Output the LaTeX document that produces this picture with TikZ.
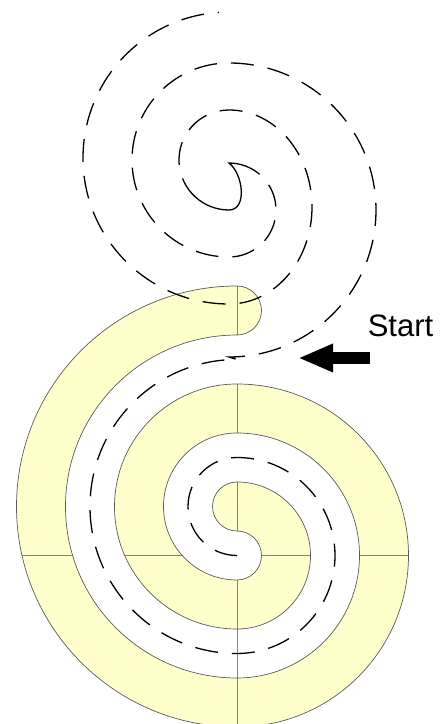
\documentclass[tikz,border=0pt]{standalone}
\usepackage{fontspec}
\setmainfont{Liberation Sans}
\usetikzlibrary{arrows.meta}
\definecolor{Wall}{HTML}{FFFFCC}
\definecolor{WallLine}{HTML}{5A5A5A}
\definecolor{Seam}{HTML}{85856A}

% the yellow wall of the lower spiral, built from half circles round two centres
\newcommand{\wallshape}{(237,438)
  arc[start angle=90,end angle=270,radius=220.5]
  arc[start angle=-90,end angle=90,radius=171.5]
  arc[start angle=90,end angle=270,radius=122.5]
  arc[start angle=-90,end angle=90,radius=73.5]
  arc[start angle=90,end angle=270,radius=24.5]
  arc[start angle=90,end angle=-90,radius=24.5]
  arc[start angle=270,end angle=90,radius=73.5]
  arc[start angle=90,end angle=-90,radius=122.5]
  arc[start angle=270,end angle=90,radius=171.5]
  arc[start angle=-90,end angle=90,radius=24.5] -- cycle}

\tikzset{
  wall/.style={fill=Wall,draw=WallLine,line width=0.7pt},
  seam/.style={Seam,line width=0.8pt},
  trail/.style={line width=1.3pt,dash pattern=on 23pt off 14pt},
  hookline/.style={line width=1.3pt},
}

\begin{document}
\begin{tikzpicture}[x=1pt,y=1pt]
  \useasboundingbox (0,0) rectangle (447,724);
  \clip (0,0) rectangle (447,724);
  \coordinate (lowR) at (237,168.5);
  \coordinate (upL) at (229,564);
  \coordinate (upR) at (229,514);
  \coordinate (arrowtail) at (370,366);
  \coordinate (arrowtip) at (298,366);

  % wall and its seams
  \fill[Wall] \wallshape;
  \begin{scope}
    \clip \wallshape;
    \draw[seam] (237,-10) -- (237,450);
    \draw[seam] (0,168.5) -- (447,168.5);
  \end{scope}
  \draw[seam] (237,95) -- (237,46);
  \draw[wall,fill=none] \wallshape;

  % walking line: in through the corridor, out round the upper spiral
  \draw[trail] (lowR) arc[start angle=270,end angle=90,radius=49]
    arc[start angle=90,end angle=-90,radius=98]
    arc[start angle=270,end angle=90,radius=147] -- ++(-8,2.5)
    arc[start angle=-90,end angle=90,radius=147]
    arc[start angle=90,end angle=270,radius=97]
    arc[start angle=-90,end angle=62,radius=47];
  \draw[hookline] (upR) ++(62:47) arc[start angle=62,end angle=90,radius=47]
    to[out=-38,in=0] (upR) arc[start angle=270,end angle=228,radius=50];
  \draw[trail] (upL) ++(228:50) arc[start angle=228,end angle=90,radius=50]
    arc[start angle=90,end angle=-90,x radius=83,y radius=97]
    arc[start angle=270,end angle=94,radius=146];

  \draw[line width=12pt,-{Triangle[length=35pt,width=26pt]}] (arrowtail) -- (arrowtip);
  \node[font=\fontsize{31}{36}\selectfont,anchor=base,inner sep=0pt] (start) at (400.5,387) {Start};
\end{tikzpicture}
\end{document}
